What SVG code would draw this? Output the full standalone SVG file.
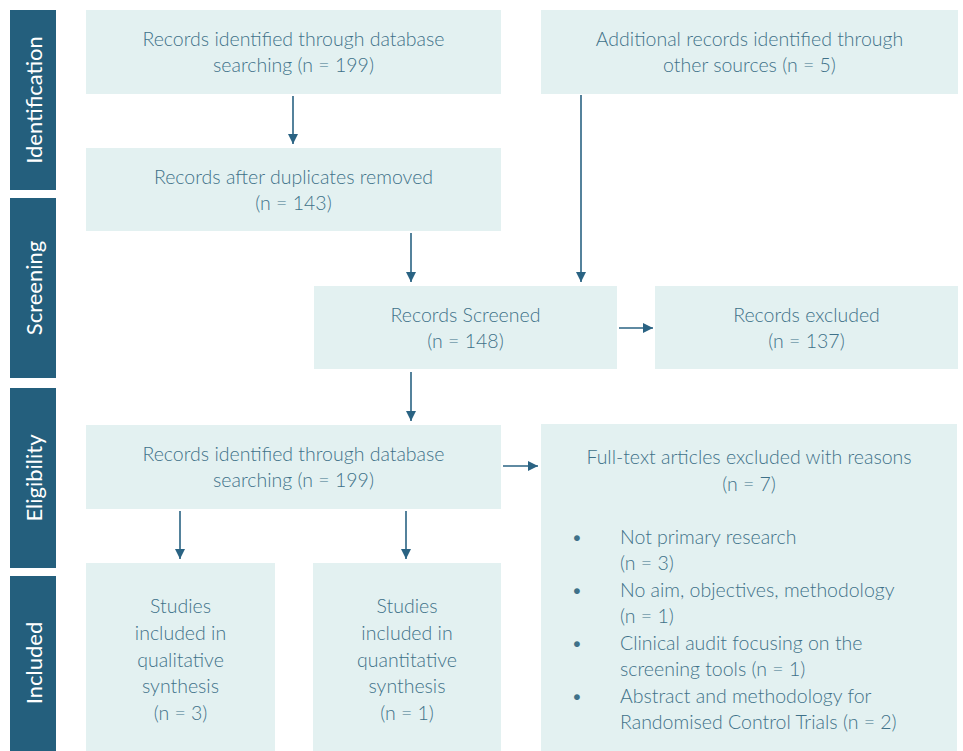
<svg xmlns="http://www.w3.org/2000/svg" width="963" height="751" viewBox="0 0 963 751">
<defs>
<style>
.bar{fill:#245f7d}
.box{fill:#e3f1f1}
.bt{font-family:Lato,"Open Sans","Liberation Sans",sans-serif;font-size:22px;font-weight:400;fill:#ffffff;text-anchor:middle}
.t{font-family:Lato,"Open Sans","Liberation Sans",sans-serif;font-size:19.5px;font-weight:300;fill:#3f7189;text-anchor:middle}
.l{text-anchor:start}
.c{stroke:#2a6383;stroke-width:1.6;fill:none;marker-end:url(#ah)}
</style>
<marker id="ah" viewBox="0 0 10 10" refX="10" refY="5" markerWidth="10" markerHeight="10" markerUnits="userSpaceOnUse" orient="auto">
<path d="M0,0 L10,5 L0,10 z" fill="#2a6383"/>
</marker>
</defs>
<rect width="963" height="751" fill="#ffffff"/>
<g id="stages">
<rect class="bar" x="10" y="10" width="46" height="180"/>
<text class="bt" transform="translate(42,100) rotate(-90)">Identification</text>
<rect class="bar" x="10" y="198" width="46" height="180"/>
<text class="bt" transform="translate(42,288) rotate(-90)">Screening</text>
<rect class="bar" x="10" y="388" width="46" height="180"/>
<text class="bt" transform="translate(42,478) rotate(-90)">Eligibility</text>
<rect class="bar" x="10" y="576" width="46" height="175"/>
<text class="bt" transform="translate(42,663) rotate(-90)">Included</text>
</g>
<g id="n1">
<rect class="box" x="86" y="10" width="415" height="84"/>
<text class="t" x="293.5" y="46">Records identified through database</text>
<text class="t" x="293.5" y="72">searching (n = 199)</text>
</g>
<g id="n2">
<rect class="box" x="541" y="10" width="417" height="84"/>
<text class="t" x="749.5" y="46">Additional records identified through</text>
<text class="t" x="749.5" y="72">other sources (n = 5)</text>
</g>
<g id="n3">
<rect class="box" x="86" y="148" width="415" height="83"/>
<text class="t" x="293.5" y="184">Records after duplicates removed</text>
<text class="t" x="293.5" y="210">(n = 143)</text>
</g>
<g id="n4">
<rect class="box" x="314" y="286" width="303" height="83"/>
<text class="t" x="465.5" y="322">Records Screened</text>
<text class="t" x="465.5" y="348">(n = 148)</text>
</g>
<g id="n5">
<rect class="box" x="655" y="286" width="303" height="83"/>
<text class="t" x="806.5" y="322">Records excluded</text>
<text class="t" x="806.5" y="348">(n = 137)</text>
</g>
<g id="n6">
<rect class="box" x="86" y="425" width="415" height="84"/>
<text class="t" x="293.5" y="461">Records identified through database</text>
<text class="t" x="293.5" y="487">searching (n = 199)</text>
</g>
<g id="n7">
<rect class="box" x="86" y="563" width="189" height="188"/>
<text class="t" x="180.5" y="613">Studies</text>
<text class="t" x="180.5" y="640">included in</text>
<text class="t" x="180.5" y="667">qualitative</text>
<text class="t" x="180.5" y="693">synthesis</text>
<text class="t" x="180.5" y="720">(n = 3)</text>
</g>
<g id="n8">
<rect class="box" x="313" y="563" width="188" height="188"/>
<text class="t" x="407" y="613">Studies</text>
<text class="t" x="407" y="640">included in</text>
<text class="t" x="407" y="667">quantitative</text>
<text class="t" x="407" y="693">synthesis</text>
<text class="t" x="407" y="720">(n = 1)</text>
</g>
<g id="n9">
<rect class="box" x="541" y="424" width="416" height="327"/>
<text class="t" x="749" y="464">Full-text articles excluded with reasons</text>
<text class="t" x="749" y="491">(n = 7)</text>
<text class="t" x="577" y="544">•</text>
<text class="t l" x="620" y="544">Not primary research</text>
<text class="t l" x="620" y="570">(n = 3)</text>
<text class="t" x="577" y="597">•</text>
<text class="t l" x="620" y="597">No aim, objectives, methodology</text>
<text class="t l" x="620" y="623">(n = 1)</text>
<text class="t" x="577" y="650">•</text>
<text class="t l" x="620" y="650">Clinical audit focusing on the</text>
<text class="t l" x="620" y="676">screening tools (n = 1)</text>
<text class="t" x="577" y="703">•</text>
<text class="t l" x="620" y="703">Abstract and methodology for</text>
<text class="t l" x="620" y="729">Randomised Control Trials (n = 2)</text>
</g>
<g id="connectors">
<line class="c" x1="293" y1="96" x2="293" y2="144"/>
<line class="c" x1="411" y1="233" x2="411" y2="282"/>
<line class="c" x1="581" y1="95" x2="581" y2="282"/>
<line class="c" x1="619" y1="328" x2="653" y2="328"/>
<line class="c" x1="411" y1="372" x2="411" y2="421"/>
<line class="c" x1="503" y1="466" x2="538" y2="466"/>
<line class="c" x1="180" y1="511" x2="180" y2="559"/>
<line class="c" x1="406" y1="511" x2="406" y2="559"/>
</g>
</svg>
